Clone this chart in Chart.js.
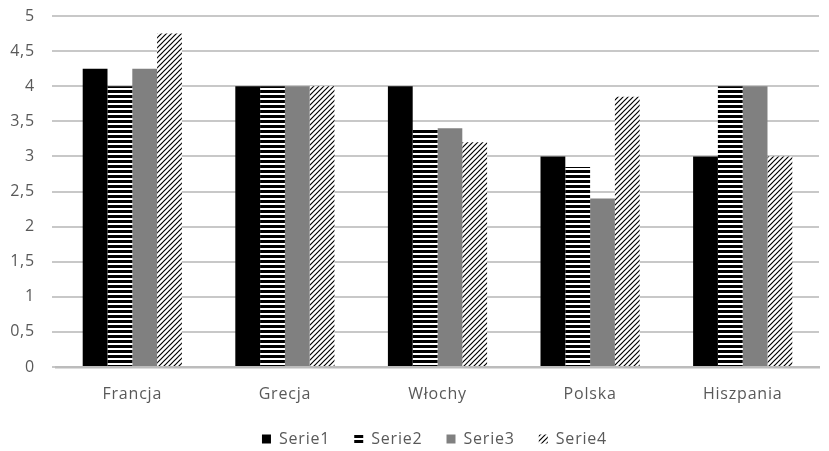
<!DOCTYPE html>
<html>
<head>
<meta charset="utf-8">
<script src="https://cdn.jsdelivr.net/npm/chart.js@4/dist/chart.umd.min.js"></script>
<style>
  html, body { margin: 0; padding: 0; background: #ffffff; }
  #wrap { width: 829px; height: 451px; }
</style>
</head>
<body>
<div id="wrap"><canvas id="c" width="829" height="451"></canvas></div>
<script>
// Country categories and the four series
const categories = ['Francja', 'Grecja', 'Włochy', 'Polska', 'Hiszpania'];
const serie1 = [4.25, 4, 4, 3, 3];
const serie2 = [4, 4, 3.4, 2.85, 4];
const serie3 = [4.25, 4, 3.4, 2.4, 4];
const serie4 = [4.75, 4, 3.2, 3.85, 3];
const seriesNames = ['Serie1', 'Serie2', 'Serie3', 'Serie4'];
const yTicks = { min: 0, max: 5, step: 0.5 };

// Fill patterns: solid black, horizontal stripes, solid grey, diagonal hatching
function stripePattern() {
  const t = document.createElement('canvas');
  t.width = 4; t.height = 5;
  const g = t.getContext('2d');
  g.fillStyle = '#ffffff'; g.fillRect(0, 0, 4, 5);
  g.fillStyle = '#000000'; g.fillRect(0, 0, 4, 3);
  return g.createPattern(t, 'repeat');
}
function hatchPattern() {
  const s = 5;
  const t = document.createElement('canvas');
  t.width = s; t.height = s;
  const g = t.getContext('2d');
  g.fillStyle = '#ffffff'; g.fillRect(0, 0, s, s);
  g.strokeStyle = '#000000'; g.lineWidth = 1.2;
  g.beginPath();
  g.moveTo(-1, s + 1); g.lineTo(s + 1, -1);
  g.moveTo(-1, 1); g.lineTo(1, -1);
  g.moveTo(s - 1, s + 1); g.lineTo(s + 1, s - 1);
  g.stroke();
  return g.createPattern(t, 'repeat');
}
const fills = ['#000000', stripePattern(), '#808080', hatchPattern()];
const values = [serie1, serie2, serie3, serie4];

const textColor = '#595959';
const baseFont = "'Open Sans', 'Liberation Sans', sans-serif";

// Slightly widened lettering for all chart text
const spacing = {
  id: 'letterSpacing',
  beforeUpdate(chart) { chart.ctx.letterSpacing = '0.8px'; },
  beforeDraw(chart) { chart.ctx.letterSpacing = '0.8px'; }
};

// Legend row sits a little right of the canvas centre
const legendShift = {
  id: 'legendShift',
  afterLayout(chart) { if (chart.legend) chart.legend.left += 50; }
};

new Chart(document.getElementById('c'), {
  type: 'bar',
  plugins: [spacing, legendShift],
  data: {
    labels: categories,
    datasets: values.map((v, i) => ({
      label: seriesNames[i],
      data: v,
      backgroundColor: fills[i],
      borderWidth: 0,
      categoryPercentage: 0.65,
      barPercentage: 1.0
    }))
  },
  options: {
    responsive: false,
    animation: false,
    devicePixelRatio: 1,
    layout: { padding: { top: 16, right: 10, bottom: 0, left: 0 } },
    plugins: {
      tooltip: { enabled: false },
      legend: {
        position: 'bottom',
        maxHeight: 44,
        labels: {
          color: textColor,
          font: { family: baseFont, size: 16 },
          boxWidth: 9,
          boxHeight: 9,
          padding: 24,
          generateLabels: (chart) => chart.data.datasets.map((ds, i) => ({
            text: ds.label,
            fillStyle: ds.backgroundColor,
            strokeStyle: ds.backgroundColor,
            lineWidth: 0,
            datasetIndex: i,
            fontColor: textColor
          }))
        }
      }
    },
    scales: {
      x: {
        grid: { display: false, drawTicks: false },
        border: { display: true, color: '#bcbcbc', width: 2.5 },
        ticks: { color: textColor, font: { family: baseFont, size: 16 }, padding: 18 },
        afterFit: (s) => { s.height = 40; }
      },
      y: {
        min: yTicks.min,
        max: yTicks.max,
        grid: { color: '#c8c8c8', lineWidth: 2, drawTicks: true, tickLength: 4, tickColor: '#c8c8c8' },
        border: { display: false },
        ticks: {
          stepSize: yTicks.step,
          color: textColor,
          font: { family: baseFont, size: 16 },
          padding: 17,
          callback: (v) => String(v).replace('.', ',')
        },
        afterFit: (s) => { s.width = 56; s.paddingTop = 0; s.paddingBottom = 0; }
      }
    }
  }
});
</script>
</body>
</html>
